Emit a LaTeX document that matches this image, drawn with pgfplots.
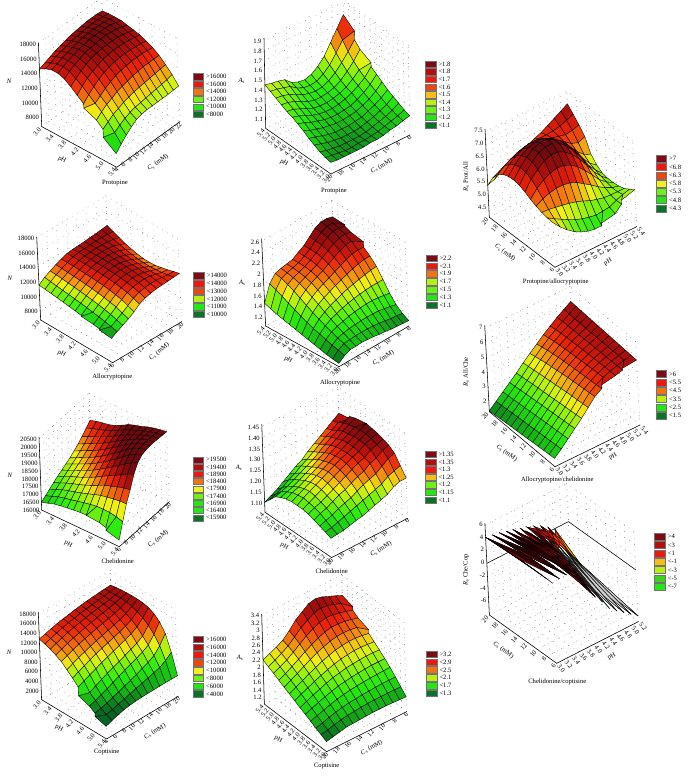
\documentclass[border=0pt]{standalone}
\usepackage{fontspec}
\setmainfont{Liberation Serif}
\usepackage{pgfplots}
\usepackage{pgfplotstable}
\pgfplotsset{compat=1.18}

\definecolor{cDR}{RGB}{125,10,20}
\definecolor{cDB}{RGB}{180,15,15}
\definecolor{cR}{RGB}{235,25,15}
\definecolor{cOR}{RGB}{238,70,15}
\definecolor{cO}{RGB}{240,115,20}
\definecolor{cAM}{RGB}{245,190,25}
\definecolor{cY}{RGB}{240,240,30}
\definecolor{cYL}{RGB}{185,240,20}
\definecolor{cL}{RGB}{110,240,20}
\definecolor{cG}{RGB}{35,230,20}
\definecolor{cG2}{RGB}{60,210,30}
\definecolor{cDG}{RGB}{10,115,40}

\newcommand\lab{\fontsize{6.6}{7}\selectfont}
\newcommand\T[4][0]{\node[rotate=#1,font=\lab,inner sep=0pt] at (#2,{776-#3}) {#4};}
\newcommand\legendbox[4]{%
  \foreach \c/\t [count=\n from 0] in {#4} {
    \fill[fill=\c,draw=black!55,line width=.25pt] (#1,{776-#2-\n*#3+#3/2-.6}) rectangle ++(10.7,{-#3+1.2});
    \node[anchor=west,font=\lab,inner sep=0pt] at (#1+13.3,{776-#2-\n*#3}) {\t};
  }}
\newcommand\frameA{\draw[black,line width=.55pt] (rel axis cs:0,0,1) -- (rel axis cs:0,0,0) -- (rel axis cs:1,0,0) -- (rel axis cs:1,1,0);}
\newcommand\frameB{\draw[black,line width=.55pt] (rel axis cs:1,1,1) -- (rel axis cs:1,1,0) -- (rel axis cs:0,1,0) -- (rel axis cs:0,0,0);}
\newcommand\frameC{\draw[black,line width=.55pt] (rel axis cs:0,1,1) -- (rel axis cs:0,1,0) -- (rel axis cs:0,0,0) -- (rel axis cs:1,0,0);}
\newcommand\surfplot[4]{\addplot3[surf,shader=faceted,faceted color=black,line width=.35pt,
    mesh/rows=13,mesh/cols=13,mesh/ordering=y varies]
    table[x index=0,y index=0,z index=0,x expr={3+#1*floor(\coordindex/13)},y expr={#2+#3*mod(\coordindex,13)}] {#4};}

\pgfplotsset{
  panel/.style={
    anchor=south west, clip=false, grid=major, scaled ticks=false,
    grid style={black!75,line width=.45pt,dash pattern=on .45pt off 5.5pt},
    axis line style={draw=none}, major tick length=1.5pt,
    tick style={draw=none},
    tick align=outside,
    tick label style={font=\lab,inner sep=1pt,/pgf/number format/assume math mode=true},
    xticklabel style={/pgf/number format/fixed,/pgf/number format/fixed zerofill,/pgf/number format/precision=1},
    zticklabel style={/pgf/number format/1000 sep={}},
    colormap={rs}{rgb255=(8,100,35) rgb255=(25,190,20) rgb255=(40,235,15) rgb255=(130,240,15)
      rgb255=(240,240,20) rgb255=(240,125,15) rgb255=(232,35,10) rgb255=(172,15,12) rgb255=(108,10,15)},
  },
  typeA/.style={panel,
    xticklabel style={rotate=50,anchor=east},
    yticklabel style={rotate=50,anchor=east},
    zticklabel style={anchor=east}},
  typeB/.style={typeA},
  typeC/.style={panel,
    xticklabel style={rotate=-50,anchor=west},
    yticklabel style={rotate=50,anchor=east},
    zticklabel style={anchor=east}},
}

\pgfplotstableread[row sep=\\,header=false]{
14500\\14800\\15100\\15400\\15600\\15800\\16000\\16100\\16200\\16300\\16300\\16300\\16200\\
15000\\15300\\15600\\15800\\16000\\16200\\16300\\16400\\16500\\16500\\16500\\16400\\16300\\
15300\\15600\\15900\\16100\\16300\\16500\\16600\\16700\\16700\\16700\\16600\\16500\\16300\\
15300\\15700\\16000\\16300\\16500\\16600\\16800\\16800\\16800\\16800\\16700\\16500\\16300\\
15000\\15500\\15900\\16200\\16500\\16600\\16700\\16800\\16800\\16700\\16600\\16400\\16100\\
14400\\15000\\15500\\15900\\16200\\16400\\16500\\16500\\16500\\16500\\16300\\16100\\15900\\
13700\\14400\\15000\\15400\\15700\\16000\\16100\\16200\\16200\\16100\\16000\\15900\\15700\\
13000\\13700\\14300\\14800\\15200\\15400\\15600\\15700\\15700\\15700\\15600\\15500\\15300\\
12400\\13000\\13500\\14000\\14400\\14700\\14900\\15000\\15100\\15100\\15100\\15000\\14900\\
11700\\12300\\12800\\13100\\13500\\13700\\13900\\14100\\14200\\14300\\14300\\14300\\14300\\
10900\\11400\\11900\\12200\\12500\\12700\\12900\\13000\\13100\\13200\\13300\\13400\\13500\\
9800\\10400\\10900\\11300\\11600\\11800\\11900\\12000\\12100\\12200\\12300\\12400\\12600\\
8500\\9300\\10000\\10600\\11100\\11300\\11400\\11400\\11400\\11400\\11400\\11450\\11500\\
}\tA
\pgfplotstableread[row sep=\\,header=false]{
1.20\\1.18\\1.16\\1.15\\1.13\\1.12\\1.12\\1.11\\1.11\\1.11\\1.11\\1.11\\1.12\\
1.22\\1.19\\1.17\\1.15\\1.13\\1.12\\1.11\\1.11\\1.10\\1.10\\1.11\\1.12\\1.13\\
1.25\\1.21\\1.18\\1.16\\1.14\\1.12\\1.11\\1.11\\1.11\\1.11\\1.12\\1.13\\1.15\\
1.28\\1.23\\1.20\\1.17\\1.15\\1.13\\1.12\\1.12\\1.12\\1.13\\1.14\\1.16\\1.18\\
1.31\\1.26\\1.22\\1.19\\1.16\\1.15\\1.14\\1.14\\1.14\\1.15\\1.17\\1.19\\1.21\\
1.35\\1.29\\1.24\\1.21\\1.18\\1.17\\1.16\\1.16\\1.17\\1.18\\1.20\\1.22\\1.25\\
1.39\\1.32\\1.27\\1.23\\1.20\\1.19\\1.18\\1.18\\1.19\\1.21\\1.23\\1.26\\1.28\\
1.43\\1.35\\1.30\\1.26\\1.23\\1.21\\1.20\\1.20\\1.21\\1.23\\1.26\\1.29\\1.31\\
1.47\\1.39\\1.33\\1.28\\1.25\\1.23\\1.22\\1.22\\1.23\\1.26\\1.29\\1.32\\1.33\\
1.53\\1.44\\1.37\\1.31\\1.27\\1.25\\1.24\\1.24\\1.26\\1.29\\1.33\\1.35\\1.36\\
1.59\\1.50\\1.42\\1.35\\1.30\\1.27\\1.26\\1.27\\1.29\\1.33\\1.36\\1.38\\1.39\\
1.68\\1.58\\1.48\\1.39\\1.33\\1.29\\1.28\\1.29\\1.32\\1.37\\1.39\\1.41\\1.42\\
1.77\\1.66\\1.55\\1.44\\1.37\\1.32\\1.30\\1.31\\1.34\\1.40\\1.42\\1.43\\1.45\\
}\tB
\pgfplotstableread[row sep=\\,header=false]{
5.90\\5.92\\5.97\\6.05\\6.15\\6.28\\6.38\\6.42\\6.40\\6.32\\6.15\\5.85\\5.41\\
5.60\\5.75\\5.95\\6.20\\6.45\\6.65\\6.75\\6.78\\6.72\\6.58\\6.35\\5.98\\5.50\\
5.35\\5.60\\5.90\\6.30\\6.65\\6.90\\7.02\\7.05\\6.95\\6.78\\6.50\\6.12\\5.65\\
5.15\\5.45\\5.85\\6.35\\6.78\\7.10\\7.25\\7.25\\7.12\\6.92\\6.62\\6.25\\5.80\\
5.00\\5.32\\5.80\\6.35\\6.85\\7.20\\7.35\\7.35\\7.20\\7.00\\6.70\\6.32\\5.90\\
4.90\\5.22\\5.72\\6.30\\6.82\\7.18\\7.35\\7.35\\7.20\\7.00\\6.72\\6.40\\6.05\\
4.85\\5.15\\5.62\\6.18\\6.70\\7.05\\7.22\\7.22\\7.10\\6.92\\6.70\\6.45\\6.18\\
4.85\\5.10\\5.50\\6.00\\6.50\\6.82\\7.00\\7.02\\6.92\\6.78\\6.62\\6.48\\6.30\\
4.95\\5.12\\5.42\\5.82\\6.22\\6.52\\6.68\\6.72\\6.68\\6.60\\6.52\\6.48\\6.40\\
5.05\\5.15\\5.35\\5.62\\5.92\\6.15\\6.28\\6.35\\6.38\\6.40\\6.45\\6.50\\6.55\\
5.30\\5.28\\5.33\\5.45\\5.60\\5.75\\5.85\\5.95\\6.05\\6.20\\6.38\\6.55\\6.70\\
5.45\\5.38\\5.32\\5.32\\5.38\\5.45\\5.52\\5.62\\5.80\\6.10\\6.42\\6.65\\6.85\\
5.60\\5.45\\5.32\\5.25\\5.22\\5.22\\5.26\\5.42\\5.68\\6.20\\6.50\\6.75\\7.00\\
}\tC
\pgfplotstableread[row sep=\\,header=false]{
11500\\12100\\12500\\12900\\13200\\13500\\13600\\13650\\13700\\13800\\13850\\13950\\14050\\
11420\\11980\\12450\\12850\\13200\\13500\\13650\\13700\\13750\\13780\\13800\\13780\\13700\\
11330\\11880\\12380\\12800\\13180\\13480\\13650\\13720\\13780\\13780\\13720\\13580\\13350\\
11220\\11780\\12300\\12750\\13150\\13480\\13660\\13750\\13800\\13750\\13620\\13350\\13000\\
11120\\11680\\12220\\12700\\13120\\13480\\13680\\13780\\13800\\13700\\13480\\13150\\12750\\
11000\\11570\\12120\\12620\\13080\\13450\\13680\\13780\\13780\\13620\\13350\\13000\\12550\\
10880\\11460\\12020\\12530\\13020\\13420\\13660\\13760\\13720\\13550\\13250\\12850\\12400\\
10760\\11340\\11900\\12420\\12950\\13370\\13620\\13720\\13680\\13500\\13200\\12800\\12400\\
10630\\11210\\11780\\12300\\12850\\13300\\13550\\13650\\13620\\13450\\13150\\12780\\12450\\
10500\\11060\\11620\\12130\\12680\\13150\\13420\\13560\\13550\\13420\\13150\\12850\\12650\\
10370\\10900\\11420\\11950\\12500\\13000\\13280\\13430\\13470\\13400\\13200\\12950\\12850\\
10210\\10710\\11170\\11630\\12150\\12700\\13050\\13220\\13300\\13300\\13220\\13110\\13100\\
10050\\10500\\10900\\11300\\11800\\12400\\12750\\12950\\13100\\13150\\13200\\13260\\13330\\
}\tD
\pgfplotstableread[row sep=\\,header=false]{
1.13\\1.14\\1.15\\1.16\\1.18\\1.19\\1.21\\1.22\\1.23\\1.22\\1.22\\1.17\\1.09\\
1.20\\1.22\\1.23\\1.25\\1.27\\1.28\\1.29\\1.29\\1.29\\1.28\\1.27\\1.21\\1.11\\
1.30\\1.33\\1.35\\1.37\\1.38\\1.38\\1.38\\1.37\\1.36\\1.34\\1.31\\1.24\\1.13\\
1.45\\1.47\\1.49\\1.50\\1.50\\1.49\\1.48\\1.46\\1.43\\1.40\\1.36\\1.28\\1.16\\
1.64\\1.64\\1.64\\1.63\\1.62\\1.60\\1.58\\1.55\\1.51\\1.47\\1.41\\1.32\\1.19\\
1.82\\1.81\\1.79\\1.77\\1.74\\1.72\\1.68\\1.64\\1.60\\1.54\\1.47\\1.36\\1.22\\
1.95\\1.95\\1.93\\1.90\\1.86\\1.82\\1.78\\1.73\\1.68\\1.62\\1.53\\1.41\\1.25\\
2.05\\2.06\\2.05\\2.01\\1.96\\1.91\\1.86\\1.81\\1.76\\1.69\\1.60\\1.46\\1.28\\
2.15\\2.16\\2.15\\2.11\\2.05\\1.99\\1.93\\1.88\\1.83\\1.76\\1.67\\1.52\\1.31\\
2.20\\2.23\\2.22\\2.18\\2.11\\2.04\\1.97\\1.92\\1.87\\1.82\\1.74\\1.58\\1.34\\
2.25\\2.28\\2.28\\2.23\\2.15\\2.07\\2.00\\1.94\\1.90\\1.86\\1.80\\1.64\\1.37\\
2.28\\2.31\\2.31\\2.26\\2.17\\2.08\\2.01\\1.95\\1.92\\1.89\\1.85\\1.70\\1.41\\
2.30\\2.33\\2.33\\2.28\\2.18\\2.08\\2.02\\1.95\\1.93\\1.91\\1.88\\1.75\\1.45\\
}\tE
\pgfplotstableread[row sep=\\,header=false]{
1.95\\1.91\\1.87\\1.83\\1.79\\1.74\\1.70\\1.66\\1.62\\1.58\\1.53\\1.49\\1.45\\
2.35\\2.31\\2.27\\2.23\\2.19\\2.14\\2.10\\2.06\\2.02\\1.98\\1.93\\1.89\\1.85\\
2.80\\2.76\\2.72\\2.67\\2.63\\2.58\\2.53\\2.48\\2.43\\2.39\\2.34\\2.30\\2.25\\
3.25\\3.21\\3.16\\3.11\\3.06\\3.01\\2.96\\2.91\\2.86\\2.80\\2.75\\2.70\\2.65\\
3.70\\3.65\\3.60\\3.55\\3.50\\3.44\\3.39\\3.34\\3.28\\3.23\\3.17\\3.11\\3.05\\
4.20\\4.15\\4.10\\4.05\\4.00\\3.94\\3.88\\3.82\\3.76\\3.70\\3.63\\3.57\\3.50\\
4.70\\4.65\\4.60\\4.55\\4.50\\4.44\\4.38\\4.31\\4.24\\4.17\\4.09\\4.00\\3.90\\
5.00\\4.96\\4.92\\4.88\\4.84\\4.80\\4.75\\4.70\\4.64\\4.57\\4.50\\4.40\\4.30\\
5.25\\5.22\\5.19\\5.16\\5.13\\5.09\\5.05\\5.01\\4.97\\4.92\\4.86\\4.78\\4.70\\
5.42\\5.40\\5.38\\5.36\\5.34\\5.32\\5.30\\5.27\\5.24\\5.21\\5.17\\5.11\\5.05\\
5.55\\5.54\\5.53\\5.52\\5.51\\5.50\\5.49\\5.48\\5.47\\5.46\\5.45\\5.43\\5.40\\
5.67\\5.67\\5.67\\5.67\\5.67\\5.67\\5.67\\5.67\\5.67\\5.68\\5.68\\5.69\\5.70\\
5.76\\5.78\\5.80\\5.82\\5.84\\5.86\\5.88\\5.90\\5.92\\5.94\\5.96\\5.98\\6.00\\
}\tF
\pgfplotstableread[row sep=\\,header=false]{
16440\\16620\\16800\\16980\\17150\\17300\\17450\\17600\\17800\\18000\\18250\\18520\\18800\\
16580\\16780\\16970\\17150\\17320\\17480\\17640\\17800\\18000\\18210\\18450\\18700\\18930\\
16720\\16940\\17150\\17340\\17520\\17680\\17840\\18010\\18210\\18420\\18640\\18840\\19020\\
16800\\17050\\17280\\17490\\17680\\17860\\18030\\18210\\18410\\18620\\18830\\18980\\19100\\
16860\\17140\\17400\\17630\\17850\\18050\\18240\\18430\\18640\\18840\\19020\\19150\\19250\\
16920\\17240\\17530\\17790\\18040\\18270\\18480\\18680\\18890\\19080\\19240\\19360\\19450\\
16970\\17340\\17670\\17970\\18260\\18520\\18750\\18960\\19170\\19350\\19490\\19600\\19700\\
16990\\17430\\17820\\18170\\18500\\18790\\19040\\19260\\19450\\19600\\19710\\19790\\19850\\
16970\\17500\\17960\\18370\\18740\\19060\\19340\\19560\\19720\\19830\\19900\\19940\\19970\\
16900\\17510\\18040\\18500\\18950\\19340\\19650\\19880\\20000\\20060\\20090\\20110\\20130\\
16780\\17500\\18120\\18650\\19180\\19640\\19960\\20170\\20250\\20270\\20270\\20260\\20250\\
16600\\17420\\18180\\18780\\19400\\19890\\20190\\20340\\20390\\20400\\20390\\20360\\20340\\
16370\\17300\\18200\\18850\\19600\\20100\\20350\\20430\\20470\\20470\\20450\\20430\\20410\\
}\tG
\pgfplotstableread[row sep=\\,header=false]{
1.24\\1.24\\1.23\\1.21\\1.20\\1.19\\1.18\\1.17\\1.165\\1.157\\1.15\\1.147\\1.143\\
1.28\\1.27\\1.26\\1.24\\1.23\\1.22\\1.21\\1.20\\1.19\\1.18\\1.17\\1.16\\1.155\\
1.32\\1.31\\1.29\\1.27\\1.26\\1.25\\1.235\\1.22\\1.21\\1.20\\1.185\\1.175\\1.165\\
1.34\\1.33\\1.31\\1.30\\1.28\\1.27\\1.255\\1.24\\1.23\\1.215\\1.20\\1.19\\1.175\\
1.35\\1.34\\1.33\\1.31\\1.30\\1.285\\1.27\\1.255\\1.24\\1.225\\1.21\\1.20\\1.185\\
1.36\\1.35\\1.34\\1.32\\1.31\\1.295\\1.28\\1.265\\1.25\\1.235\\1.22\\1.205\\1.19\\
1.365\\1.355\\1.34\\1.325\\1.31\\1.30\\1.285\\1.27\\1.255\\1.24\\1.225\\1.21\\1.19\\
1.37\\1.355\\1.34\\1.325\\1.31\\1.295\\1.28\\1.265\\1.25\\1.235\\1.22\\1.205\\1.19\\
1.37\\1.35\\1.335\\1.32\\1.305\\1.29\\1.27\\1.255\\1.24\\1.225\\1.21\\1.20\\1.185\\
1.36\\1.345\\1.33\\1.31\\1.295\\1.275\\1.26\\1.24\\1.225\\1.21\\1.195\\1.185\\1.175\\
1.35\\1.335\\1.315\\1.30\\1.28\\1.26\\1.24\\1.225\\1.21\\1.195\\1.18\\1.17\\1.16\\
1.34\\1.32\\1.30\\1.285\\1.265\\1.245\\1.225\\1.21\\1.19\\1.175\\1.155\\1.14\\1.13\\
1.33\\1.31\\1.29\\1.27\\1.25\\1.23\\1.205\\1.19\\1.17\\1.15\\1.13\\1.115\\1.10\\
}\tH
\pgfplotstableread[row sep=\\,header=false]{
4.43\\4.45\\4.48\\4.50\\4.50\\4.48\\4.45\\4.40\\4.35\\4.28\\4.20\\4.12\\4.06\\
4.60\\4.62\\4.63\\4.62\\4.60\\4.56\\4.50\\4.43\\4.34\\4.24\\4.12\\4.00\\3.90\\
4.65\\4.66\\4.66\\4.63\\4.58\\4.52\\4.44\\4.34\\4.23\\4.10\\3.97\\3.83\\3.70\\
4.50\\4.52\\4.52\\4.48\\4.42\\4.35\\4.26\\4.15\\4.03\\3.88\\3.73\\3.57\\3.40\\
2.70\\3.05\\3.35\\3.58\\3.75\\3.85\\3.90\\3.88\\3.80\\3.66\\3.50\\3.30\\3.10\\
0.80\\1.30\\1.80\\2.25\\2.62\\2.92\\3.12\\3.24\\3.28\\3.25\\3.15\\3.00\\2.80\\
-1.00\\-0.50\\0.05\\0.60\\1.10\\1.55\\1.92\\2.22\\2.45\\2.58\\2.62\\2.55\\2.40\\
}\tIa
\pgfplotstableread[row sep=\\,header=false]{
2.58\\2.62\\2.55\\2.40\\
1.60\\1.85\\2.00\\2.00\\
0.40\\0.85\\1.25\\1.50\\
-0.90\\-0.30\\0.30\\0.80\\
-2.45\\-1.85\\-1.00\\-0.10\\
-4.05\\-3.60\\-2.95\\-2.20\\
-5.75\\-5.60\\-5.45\\-5.30\\
}\tIb
\pgfplotstableread[row sep=\\,header=false]{
-1.00\\-0.50\\0.05\\0.60\\1.10\\1.55\\1.92\\2.22\\2.45\\2.58\\
-2.30\\-1.90\\-1.40\\-0.90\\-0.40\\0.10\\0.55\\0.95\\1.30\\1.60\\
-3.90\\-3.50\\-3.05\\-2.60\\-2.10\\-1.60\\-1.10\\-0.60\\-0.10\\0.40\\
-4.80\\-4.50\\-4.15\\-3.80\\-3.40\\-3.00\\-2.55\\-2.05\\-1.50\\-0.90\\
-5.60\\-5.35\\-5.10\\-4.80\\-4.50\\-4.15\\-3.80\\-3.40\\-2.95\\-2.45\\
-6.40\\-6.20\\-6.00\\-5.75\\-5.50\\-5.25\\-5.00\\-4.70\\-4.40\\-4.05\\
-7.20\\-7.05\\-6.90\\-6.75\\-6.60\\-6.40\\-6.20\\-6.05\\-5.90\\-5.75\\
}\tIc
\pgfplotstableread[row sep=\\,header=false]{
12660\\13000\\13350\\13650\\13900\\14100\\14330\\14500\\14650\\14750\\14850\\14930\\15000\\
12300\\12700\\13100\\13450\\13750\\13980\\14200\\14400\\14570\\14720\\14860\\15000\\15200\\
11900\\12350\\12780\\13150\\13480\\13750\\14000\\14220\\14430\\14620\\14800\\15050\\15350\\
11350\\11850\\12300\\12700\\13050\\13380\\13680\\13960\\14220\\14480\\14780\\15120\\15450\\
10700\\11200\\11680\\12100\\12480\\12830\\13150\\13450\\13750\\14050\\14450\\14980\\15500\\
9650\\10200\\10700\\11150\\11580\\11980\\12350\\12700\\13050\\13450\\13950\\14700\\15480\\
8600\\9150\\9700\\10200\\10680\\11100\\11500\\11900\\12300\\12750\\13350\\14300\\15400\\
7400\\7950\\8500\\9020\\9520\\10000\\10450\\10880\\11350\\11850\\12550\\13700\\15100\\
5600\\6200\\6850\\7450\\8000\\8500\\9000\\9500\\10000\\10550\\11300\\12800\\14500\\
4800\\5250\\5700\\6200\\6750\\7300\\7850\\8350\\8850\\9400\\10100\\11600\\13500\\
4000\\4300\\4650\\5050\\5500\\5950\\6400\\6900\\7400\\7900\\8600\\9900\\11700\\
3300\\3650\\4000\\4350\\4700\\5050\\5400\\5750\\6100\\6450\\6800\\7500\\8500\\
2640\\3100\\3500\\3850\\4050\\4180\\4250\\4280\\4300\\4320\\4330\\4320\\4300\\
}\tJ
\pgfplotstableread[row sep=\\,header=false]{
1.40\\1.41\\1.42\\1.43\\1.43\\1.43\\1.42\\1.41\\1.40\\1.39\\1.35\\1.31\\1.27\\
1.56\\1.57\\1.57\\1.57\\1.57\\1.56\\1.55\\1.53\\1.51\\1.48\\1.44\\1.39\\1.35\\
1.72\\1.72\\1.72\\1.71\\1.70\\1.69\\1.67\\1.65\\1.62\\1.58\\1.53\\1.47\\1.42\\
1.87\\1.87\\1.86\\1.85\\1.84\\1.82\\1.80\\1.77\\1.73\\1.68\\1.62\\1.56\\1.50\\
2.00\\2.00\\2.00\\1.99\\1.97\\1.95\\1.92\\1.89\\1.84\\1.78\\1.72\\1.65\\1.58\\
2.13\\2.14\\2.14\\2.13\\2.11\\2.09\\2.05\\2.01\\1.95\\1.88\\1.81\\1.73\\1.65\\
2.24\\2.26\\2.27\\2.27\\2.25\\2.22\\2.18\\2.12\\2.05\\1.98\\1.90\\1.82\\1.73\\
2.36\\2.39\\2.41\\2.41\\2.39\\2.36\\2.30\\2.24\\2.16\\2.08\\1.99\\1.90\\1.81\\
2.46\\2.50\\2.53\\2.54\\2.53\\2.49\\2.43\\2.36\\2.27\\2.17\\2.07\\1.98\\1.88\\
2.56\\2.61\\2.65\\2.67\\2.67\\2.63\\2.56\\2.47\\2.37\\2.26\\2.15\\2.05\\1.96\\
2.66\\2.72\\2.77\\2.81\\2.82\\2.78\\2.70\\2.60\\2.47\\2.34\\2.22\\2.13\\2.04\\
2.76\\2.83\\2.89\\2.95\\2.97\\2.93\\2.83\\2.71\\2.55\\2.40\\2.29\\2.20\\2.11\\
2.85\\2.93\\3.00\\3.08\\3.12\\3.08\\2.95\\2.82\\2.62\\2.45\\2.35\\2.27\\2.19\\
}\tK

\begin{document}
\begin{tikzpicture}[x=1pt,y=1pt]
\useasboundingbox (0,0) rectangle (688,776);

% left column
\begin{axis}[typeA,at={(38.4pt,608.7pt)},x={(31.25pt,-16.96pt)},y={(3.517pt,2.539pt)},z={(-0.00029pt,0.00733pt)},
  xmin=3,xmax=5.4,ymin=4,ymax=22,zmin=6640,zmax=18100,point meta min=7500,point meta max=17000,
  xtick={3,3.4,...,5.41},ytick={4,6,...,22},ztick={8000,10000,...,18000}]
\surfplot{0.2}{4}{1.5}{\tA}
\frameA
\end{axis}
\T{115}{182.7}{Protopine}\T[-28]{62}{160}{pH}\T[35]{158}{162.7}{\textit{C}\textsubscript{s} (mM)}\T{9.3}{81}{\textit{N}}
\legendbox{192.7}{76.7}{7.53}{cDR/>16000,cR/<16000,cO/<14000,cL/<12000,cG/<10000,cDG/<8000}

\begin{axis}[typeA,at={(36.7pt,413.3pt)},x={(30pt,-17.78pt)},y={(4.93pt,2.93pt)},z={(-0.00035pt,0.00733pt)},
  xmin=3,xmax=5.4,ymin=6,ymax=20,zmin=6730,zmax=18100,point meta min=10000,point meta max=14200,
  xtick={3,3.4,...,5.41},ytick={6,8,...,20},ztick={8000,10000,...,18000}]
\surfplot{0.2}{6}{1.16667}{\tD}
\frameA
\end{axis}
\T{112.3}{376.7}{Allocryptopine}\T[-28]{61.7}{354}{pH}\T[40]{159.3}{351.7}{\textit{C}\textsubscript{s} (mM)}\T{10}{278.3}{\textit{N}}
\legendbox{193.3}{275.7}{7.73}{cDR/>14000,cR/<14000,cOR/<13000,cYL/<12000,cG/<11000,cDG/<10000}

\begin{axis}[typeA,at={(39pt,229.3pt)},x={(32.36pt,-15.28pt)},y={(3.571pt,3.214pt)},z={(-0.00058pt,0.0157pt)},
  xmin=3,xmax=5.4,ymin=6,ymax=20,zmin=15950,zmax=20600,point meta min=16000,point meta max=19600,
  xtick={3,3.4,...,5.41},ytick={6,8,...,20},ztick={16000,16500,...,20500}]
\surfplot{0.2}{6}{1.16667}{\tG}
\frameA
\end{axis}
\T{117.7}{561.7}{Chelidonine}\T[-28]{68.3}{544.3}{pH}\T[38]{158.3}{539}{\textit{C}\textsubscript{s} (mM)}\T{10}{475}{\textit{N}}
\legendbox{192.7}{459.7}{7.25}{cDR/>19500,cDB/<19400,cR/<18900,cO/<18400,cY/<17900,cL/<17400,cG/<16900,cG/<16400,cDG/<15900}

\begin{axis}[typeA,at={(38.3pt,37pt)},x={(27.08pt,-16.39pt)},y={(4.48pt,2.67pt)},z={(-0.000185pt,0.00479pt)},
  xmin=3,xmax=5.4,ymin=4,ymax=20,zmin=0,zmax=18300,point meta min=4000,point meta max=16500,
  xtick={3,3.4,...,5.41},ytick={4,6,...,20},ztick={2000,4000,...,18000}]
\surfplot{0.2}{4}{1.33333}{\tJ}
\frameA
\end{axis}
\T{106.7}{751.7}{Coptisine}\T[-28]{59}{728.3}{pH}\T[32]{155}{731.7}{\textit{C}\textsubscript{s} (mM)}\T{9.3}{652.7}{\textit{N}}
\legendbox{192.7}{639.3}{7.8}{cDR/>16000,cDB/<16000,cR/<14000,cOR/<12000,cY/<10000,cL/<8000,cG/<6000,cDG/<4000}

% middle column
\begin{axis}[typeB,at={(264pt,602pt)},x={(-27.2pt,19.03pt)},y={(-5.643pt,-2.786pt)},z={(-1.8pt,97pt)},
  xmin=3,xmax=5.4,ymin=6,ymax=20,zmin=1,zmax=1.93,point meta min=1.05,point meta max=1.9,
  xtick={3,3.2,...,5.41},ytick={6,8,...,20},ztick={1.1,1.2,...,1.91}]
\surfplot{0.2}{6}{1.16667}{\tB}
\frameB
\end{axis}
\T{334}{190.7}{Protopine}\T[-30]{284}{163}{pH}\T[30]{381.7}{166}{\textit{C}\textsubscript{s} (mM)}\T{241.7}{81}{\textit{A}\textsubscript{s}}
\legendbox{425}{64}{7.63}{cDR/>1.8,cDB/<1.8,cR/<1.7,cOR/<1.6,cAM/<1.5,cYL/<1.4,cL/<1.3,cG/<1.2,cDG/<1.1}

\begin{axis}[typeB,at={(261.6pt,409.3pt)},x={(-30.56pt,16.94pt)},y={(-5pt,-2.905pt)},z={(-2.5pt,54pt)},
  xmin=3,xmax=5.4,ymin=6,ymax=20,zmin=1.03,zmax=2.65,point meta min=1.1,point meta max=2.3,
  xtick={3,3.2,...,5.41},ytick={6,8,...,20},ztick={1.2,1.4,...,2.61}]
\surfplot{0.2}{6}{1.16667}{\tE}
\frameB
\end{axis}
\T{340}{382.7}{Allocryptopine}\T[-30]{288.3}{360}{pH}\T[32]{383.3}{358.3}{\textit{C}\textsubscript{s} (mM)}\T{242.3}{282.7}{\textit{A}\textsubscript{s}}
\legendbox{426}{258.3}{7.77}{cDR/>2.2,cR/<2.1,cO/<1.9,cYL/<1.7,cL/<1.5,cG/<1.3,cDG/<1.1}

\begin{axis}[typeB,at={(261.75pt,218.4pt)},x={(-27.78pt,18.89pt)},y={(-5.43pt,-2.81pt)},z={(-8pt,216.2pt)},
  xmin=3,xmax=5.4,ymin=6,ymax=20,zmin=1.054,zmax=1.46,point meta min=1.12,point meta max=1.36,
  xtick={3,3.2,...,5.41},ytick={6,8,...,20},ztick={1.10,1.15,...,1.451},
  zticklabel style={/pgf/number format/fixed,/pgf/number format/fixed zerofill,/pgf/number format/precision=2}]
\surfplot{0.2}{6}{1.16667}{\tH}
\frameB
\end{axis}
\T{331.7}{571}{Chelidonine}\T[-30]{284.3}{546.7}{pH}\T[32]{381}{549}{\textit{C}\textsubscript{s} (mM)}\T{239}{468.3}{\textit{A}\textsubscript{s}}
\legendbox{425}{454.3}{7.6}{cDR/>1.35,cDB/<1.35,cR/<1.3,cAM/<1.25,cL/<1.2,cG/<1.15,cDG/<1.1}

\begin{axis}[typeB,at={(261.7pt,24.3pt)},x={(-25.97pt,19.86pt)},y={(-5.71pt,-2.86pt)},z={(-1.1pt,37.1pt)},
  xmin=3,xmax=5.4,ymin=6,ymax=20,zmin=1,zmax=3.42,point meta min=1.3,point meta max=3.2,
  xtick={3,3.2,...,5.41},ytick={6,8,...,20},ztick={1.2,1.4,...,3.41}]
\surfplot{0.2}{6}{1.16667}{\tK}
\frameB
\end{axis}
\T{326.7}{765.7}{Coptisine}\T[-30]{278.3}{739.3}{pH}\T[30]{371.7}{747.7}{\textit{C}\textsubscript{s} (mM)}\T{240}{657.7}{\textit{A}\textsubscript{s}}
\legendbox{426}{654.3}{7.8}{cDR/>3.2,cR/<2.9,cO/<2.5,cYL/<2.1,cG/<1.7,cDG/<1.3}

% right column
\begin{axis}[typeC,at={(485pt,508.7pt)},x={(34.03pt,16.94pt)},y={(-4.69pt,3.571pt)},z={(-1.25pt,25.56pt)},
  xmin=3,xmax=5.4,ymin=6,ymax=20,zmin=4.15,zmax=7.6,point meta min=4.2,point meta max=7.2,
  xtick={3,3.2,...,5.41},ytick={6,8,...,20},ztick={4.5,5,...,7.5},
  zticklabel style={/pgf/number format/fixed,/pgf/number format/fixed zerofill,/pgf/number format/precision=1}]
\surfplot{0.2}{6}{1.16667}{\tC}
\frameC
\end{axis}
\T{555.7}{281.7}{Protopine/allocryptopine}\T[-37]{505}{252.7}{\textit{C}\textsubscript{s} (mM)}\T[30]{608}{262}{pH}\T[90]{466}{176.7}{\textit{R}\textsubscript{s} Prot/All}
\legendbox{655.7}{158.7}{8.27}{cDR/>7,cR/<6.8,cOR/<6.3,cY/<5.8,cL/<5.3,cG/<4.8,cDG/<4.3}

\begin{axis}[typeC,at={(484.7pt,309.3pt)},x={(35.42pt,17.36pt)},y={(-4.69pt,3.93pt)},z={(-0.8pt,14.87pt)},
  xmin=3,xmax=5.4,ymin=6,ymax=20,zmin=1.39,zmax=7.2,point meta min=1.4,point meta max=6.3,
  xtick={3,3.2,...,5.41},ytick={6,8,...,20},ztick={2,3,...,7}]
\surfplot{0.2}{6}{1.16667}{\tF}
\frameC
\end{axis}
\T{557.3}{480}{Allocryptopine/chelidonine}\T[-37]{506.7}{453.3}{\textit{C}\textsubscript{s} (mM)}\T[30]{613}{456.7}{pH}\T[90]{466}{371.7}{\textit{R}\textsubscript{s} All/Che}
\legendbox{655.7}{374}{8.35}{cDR/>6,cR/<5.5,cO/<4.5,cYL/<3.5,cG/<2.5,cDG/<1.5}

\begin{axis}[typeC,at={(484.9pt,112.7pt)},x={(37.1pt,18.94pt)},y={(-4.81pt,3.45pt)},z={(-0.31pt,6.39pt)},
  xmin=3,xmax=5.2,ymin=6,ymax=20,zmin=-8.09,zmax=6.3,point meta min=-7.5,point meta max=3,
  xtick={3,3.2,...,5.21},ytick={6,8,...,20},ztick={-6,-4,...,6}]
\draw[black,line width=.55pt] (axis cs:3,20,0) -- (axis cs:5.2,20,0) -- (axis cs:5.2,6,0);
\addplot3[surf,shader=faceted,faceted color=black,line width=.35pt,
    mesh/rows=7,mesh/cols=4,mesh/ordering=y varies]
    table[x index=0,y index=0,z index=0,x expr={4.1+0.18333*floor(\coordindex/4)},y expr={16.5+1.16667*mod(\coordindex,4)}] {\tIb};
\addplot3[surf,shader=faceted,faceted color=black,line width=.35pt,
    colormap={plain}{rgb255=(205,205,205) rgb255=(205,205,205)},
    mesh/rows=7,mesh/cols=10,mesh/ordering=y varies]
    table[x index=0,y index=0,z index=0,x expr={4.1+0.18333*floor(\coordindex/10)},y expr={6+1.16667*mod(\coordindex,10)}] {\tIc};
\addplot3[surf,shader=faceted,faceted color=black,line width=.35pt,
    mesh/rows=7,mesh/cols=13,mesh/ordering=y varies]
    table[x index=0,y index=0,z index=0,x expr={3+0.18333*floor(\coordindex/13)},y expr={6+1.16667*mod(\coordindex,13)}] {\tIa};
\frameC
\end{axis}
\T{557.3}{681.7}{Chelidonine/coptisine}\T[-37]{503.3}{650}{\textit{C}\textsubscript{s} (mM)}\T[30]{611.7}{656.7}{pH}\T[90]{466}{570}{\textit{R}\textsubscript{s} Che/Cop}
\legendbox{654.3}{536.7}{8.33}{cDR/>4,cDB/<3,cR/<1,cAM/<-1,cYL/<-3,cG2/<-5,cG/<-7}
\end{tikzpicture}
\end{document}
